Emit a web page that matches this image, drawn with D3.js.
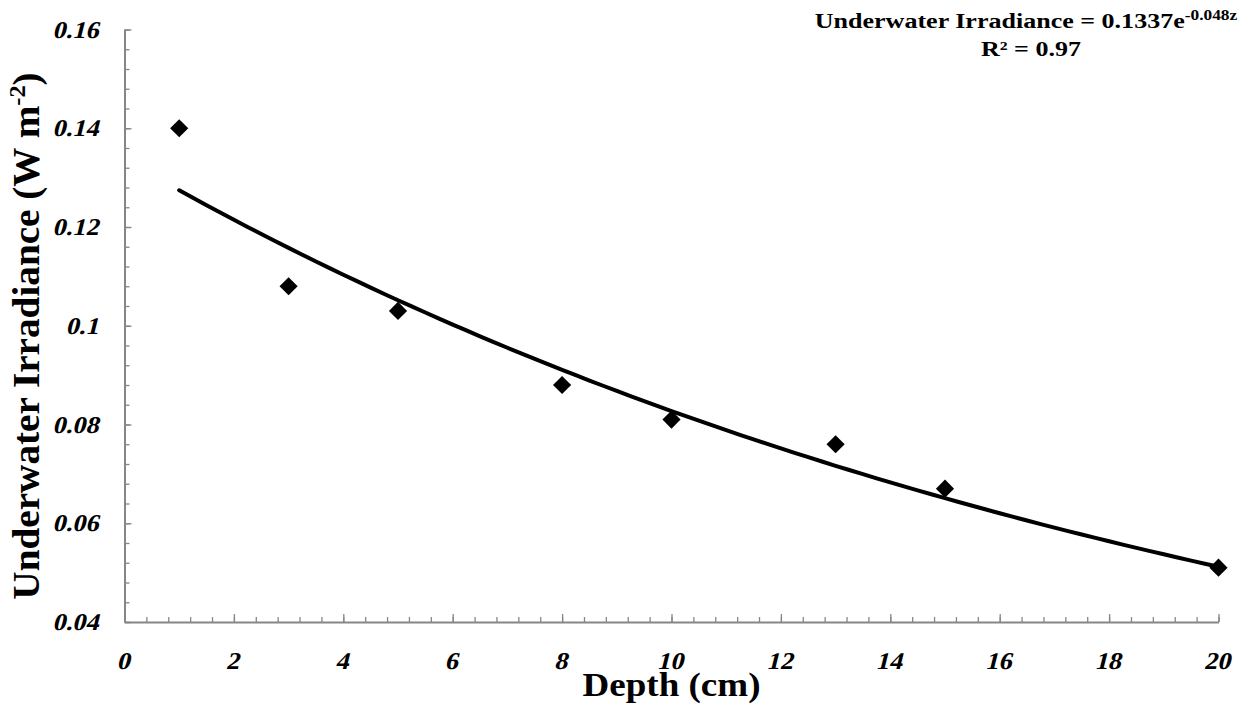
<!DOCTYPE html>
<html>
<head>
<meta charset="utf-8">
<script src="https://cdn.jsdelivr.net/npm/d3@7"></script>
<style>
  body { margin: 0; background: #fff; }
  svg text { font-family: "Liberation Serif", "Times New Roman", serif; }
</style>
</head>
<body>
<div id="chart"></div>
<script>
// measured depths (cm) and irradiance (W m-2)
var depths = [1, 3, 5, 8, 10, 13, 15, 20];
var irradiance = [0.14, 0.108, 0.103, 0.088, 0.081, 0.076, 0.067, 0.051];

// exponential trendline from the label
var fitA = 0.1337;
var fitK = -0.048;

var xTicks = [0, 2, 4, 6, 8, 10, 12, 14, 16, 18, 20];
var yTicks = [0.04, 0.06, 0.08, 0.1, 0.12, 0.14, 0.16];

var width = 1258, height = 713;
var margin = {top: 29.5, right: 39.5, bottom: 91, left: 124.5};
var serif = "'Liberation Serif', 'Times New Roman', serif";
var slant = Math.tan(14 * Math.PI / 180);

var svg = d3.select("#chart").append("svg")
  .attr("width", width)
  .attr("height", height);

var x = d3.scaleLinear()
  .domain([0, 20])
  .range([margin.left, width - margin.right]);

var y = d3.scaleLinear()
  .domain([0.04, 0.16])
  .range([height - margin.bottom, margin.top]);

var axisColor = "#868686";

// minor ticks first
var xMinor = d3.range(0, 20.001, 0.4);
var yMinor = d3.range(0.04, 0.1601, 0.004);

svg.append("g")
  .attr("transform", "translate(0," + y(0.04) + ")")
  .call(d3.axisBottom(x).tickValues(xMinor).tickSize(-5).tickFormat(""))
  .call(function(g) { g.select(".domain").remove(); })
  .selectAll("line").attr("stroke", axisColor).attr("stroke-width", 1.3);

svg.append("g")
  .attr("transform", "translate(" + x(0) + ",0)")
  .call(d3.axisLeft(y).tickValues(yMinor).tickSize(-5).tickFormat(""))
  .call(function(g) { g.select(".domain").remove(); })
  .selectAll("line").attr("stroke", axisColor).attr("stroke-width", 1.3);

// major axes
var xAxis = d3.axisBottom(x)
  .tickValues(xTicks)
  .tickSizeInner(-8)
  .tickSizeOuter(0)
  .tickPadding(30)
  .tickFormat(function(d) { return d; });

var gx = svg.append("g")
  .attr("transform", "translate(0," + y(0.04) + ")")
  .call(xAxis);

var yAxis = d3.axisLeft(y)
  .tickValues(yTicks)
  .tickSizeInner(-7)
  .tickSizeOuter(0)
  .tickPadding(22)
  .tickFormat(function(d) { return String(+d.toFixed(2)); });

var gy = svg.append("g")
  .attr("transform", "translate(" + x(0) + ",0)")
  .call(yAxis);

[gx, gy].forEach(function(g) {
  g.attr("font-family", serif);
  g.select(".domain").attr("stroke", axisColor).attr("stroke-width", 2);
  g.selectAll(".tick line").attr("stroke", axisColor).attr("stroke-width", 1.3);
  g.selectAll("text")
    .attr("fill", "#000")
    .attr("font-family", serif)
    .attr("font-size", 24)
    .attr("font-weight", "bold");
});

// bold italic serif isn't available, so slant the bold face by hand
gx.selectAll("text").attr("transform", "translate(" + (39 * slant) + ",0) skewX(-14) scale(1.1,1)");
gy.selectAll("text").attr("transform", "skewX(-14) scale(1.1,1)");

// trendline
var fitX = d3.range(1, 20.001, 0.25);
var line = d3.line()
  .x(function(d) { return x(d); })
  .y(function(d) { return y(fitA * Math.exp(fitK * d)); });

svg.append("path")
  .datum(fitX)
  .attr("d", line)
  .attr("fill", "none")
  .attr("stroke", "#000")
  .attr("stroke-width", 4)
  .attr("stroke-linecap", "round");

// diamond markers
var diamond = d3.symbol().type(d3.symbolSquare).size(165);
svg.selectAll(".pt")
  .data(depths)
  .enter()
  .append("path")
  .attr("class", "pt")
  .attr("d", diamond)
  .attr("transform", function(d, i) {
    return "translate(" + x(d) + "," + y(irradiance[i]) + ") rotate(45)";
  })
  .attr("fill", "#000");

// axis titles
svg.append("text")
  .attr("transform", "translate(" + x(10) + ",696) scale(1.09,1)")
  .attr("text-anchor", "middle")
  .attr("font-family", serif)
  .attr("font-size", 34)
  .attr("font-weight", "bold")
  .text("Depth (cm)");

var yt = svg.append("text")
  .attr("transform", "translate(39,336) rotate(-90) scale(1.06,1)")
  .attr("text-anchor", "middle")
  .attr("font-family", serif)
  .attr("font-size", 37)
  .attr("font-weight", "bold");
yt.append("tspan").text("Underwater Irradiance (W m");
yt.append("tspan").attr("dy", -14).attr("font-size", 23).text("-2");
yt.append("tspan").attr("dy", 14).text(")");

// equation label
var eq = svg.append("text")
  .attr("transform", "translate(1026,28) scale(1.24,1)")
  .attr("text-anchor", "middle")
  .attr("font-family", serif)
  .attr("font-size", 21)
  .attr("font-weight", "bold");
eq.append("tspan").text("Underwater Irradiance = " + fitA + "e");
eq.append("tspan").attr("dy", -8).attr("font-size", 14).text(fitK + "z");

svg.append("text")
  .attr("transform", "translate(1031,56) scale(1.24,1)")
  .attr("text-anchor", "middle")
  .attr("font-family", serif)
  .attr("font-size", 21)
  .attr("font-weight", "bold")
  .text("R² = 0.97");
</script>
</body>
</html>
